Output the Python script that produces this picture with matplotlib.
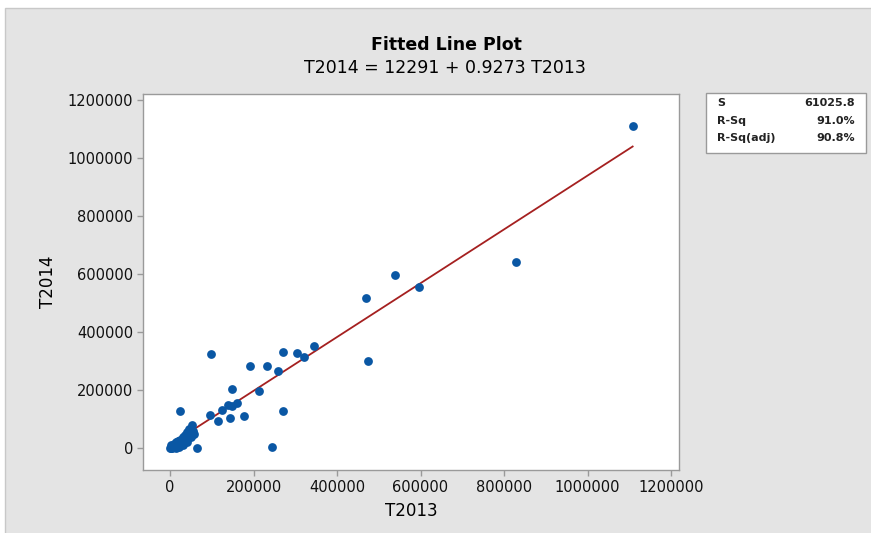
import matplotlib
matplotlib.use("Agg")
import matplotlib.pyplot as plt
from matplotlib.patches import Rectangle

# Data
t2013 = [1108000, 829000, 597000, 540000, 469000, 473000,
         98000, 192000, 232000, 258000, 271000, 305000, 321000, 345000,
         148000, 214000, 24000, 96000, 116000, 124000, 140000, 148000,
         160000, 144000, 177000, 271000, 244000, 64000, 52000,
         2000, 5000, 8000, 10000, 12000, 15000, 18000, 20000, 22000, 25000,
         28000, 30000, 32000, 35000, 38000, 40000, 42000, 45000, 48000, 50000,
         55000, 58000, 30000, 40000, 15000, 5000, 0, 3000, 45000]
t2014 = [1110000, 643000, 555000, 598000, 516000, 299000,
         326000, 284000, 284000, 267000, 330000, 328000, 316000, 351000,
         204000, 198000, 129000, 115000, 95000, 132000, 150000, 144000,
         155000, 104000, 112000, 129000, 4000, 0, 80000,
         1000, 8000, 3000, 15000, 6000, 20000, 12000, 25000, 5000, 30000,
         18000, 40000, 25000, 45000, 30000, 55000, 35000, 50000, 62000, 40000,
         58000, 48000, 10000, 20000, 2000, 0, 2000, 12000, 65000]

intercept = 12291
slope = 0.9273
title_lines = ["Fitted Line Plot", "T2014 = 12291 + 0.9273 T2013"]
stat_names = ["S", "R-Sq", "R-Sq(adj)"]
stat_values = ["61025.8", "91.0%", "90.8%"]
ticks = [0, 200000, 400000, 600000, 800000, 1000000, 1200000]

W, H = 871, 533
fig = plt.figure(figsize=(W / 100, H / 100), dpi=100)
fig.patch.set_facecolor("white")
fig.add_artist(Rectangle((5 / W, -0.01), 1, 1 - 8 / H + 0.01, transform=fig.transFigure,
                         facecolor="#e4e4e4", edgecolor="#c8c8c8", linewidth=1.0, zorder=0))

ax = fig.add_axes([143 / W, 1 - 470 / H, (679 - 143) / W, (470 - 94) / H])
ax.set_facecolor("white")
ax.set_zorder(2)

ax.scatter(t2013, t2014, s=40, color="#0a57a4", zorder=3, linewidths=0)
xmin, xmax = min(t2013), max(t2013)
ax.plot([xmin, xmax], [intercept + slope * xmin, intercept + slope * xmax],
        color="#a52020", linewidth=1.3, zorder=2)

ax.set_xlim(-64700, 1219000)
ax.set_ylim(-75000, 1220700)
ax.set_xticks(ticks)
ax.set_yticks(ticks)
ax.set_xticklabels([str(t) for t in ticks])
ax.set_yticklabels([str(t) for t in ticks])
for s in ax.spines.values():
    s.set_color("#9a9a9a")
    s.set_linewidth(1.0)
ax.tick_params(direction="out", length=4, width=1, color="#9a9a9a", labelsize=10.5,
               labelcolor="#111111", pad=3)

ax.set_xlabel("T2013", fontsize=12, labelpad=5)
ax.set_ylabel("T2014", fontsize=12, labelpad=8)

fig.text(446 / W, 1 - 45 / H, title_lines[0], ha="center", va="center", fontsize=12.5,
         fontweight="semibold")
fig.text(445 / W, 1 - 68 / H, title_lines[1], ha="center", va="center", fontsize=12.5)

# stats box
fig.add_artist(Rectangle((706 / W, 1 - 153 / H), (866 - 706) / W, (153 - 93) / H,
                         transform=fig.transFigure, facecolor="white",
                         edgecolor="#9a9a9a", linewidth=1.0, zorder=3))
row_y = [103, 121, 138]
for name, val, yy in zip(stat_names, stat_values, row_y):
    fig.text(717 / W, 1 - yy / H, name, ha="left", va="center", fontsize=8,
             fontweight="bold", color="#222222", zorder=4)
    fig.text(855 / W, 1 - yy / H, val, ha="right", va="center", fontsize=8,
             fontweight="bold", color="#222222", zorder=4)

fig.savefig("out.png", dpi=100)
